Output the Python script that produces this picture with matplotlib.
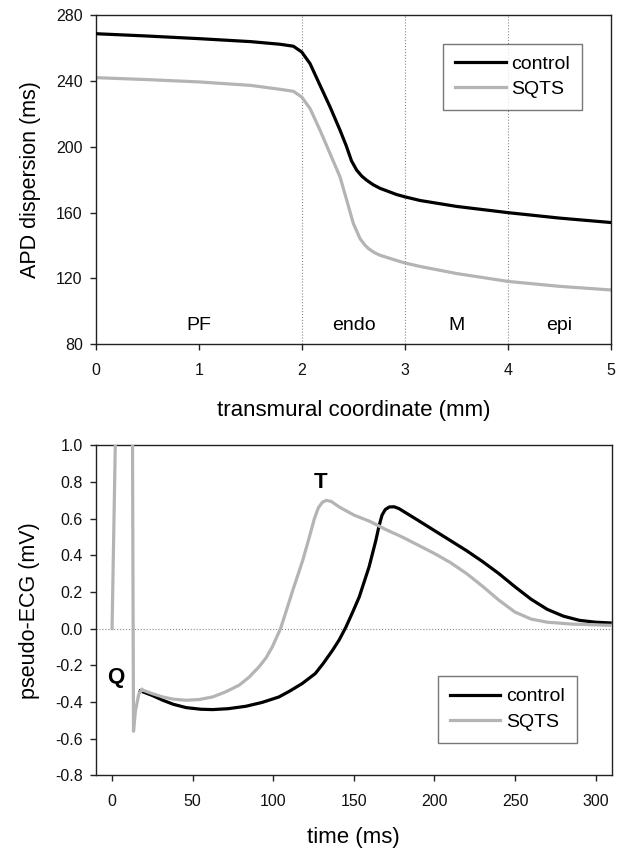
import matplotlib.pyplot as plt

plt.rcParams['font.family'] = ['Liberation Sans', 'DejaVu Sans']

# top panel: APD dispersion along the transmural coordinate
x_mm = [0.0, 0.5, 1.0, 1.5, 1.786, 1.916, 1.997, 2.078, 2.175, 2.272, 2.369, 2.43, 2.48, 2.531, 2.58,
        2.628, 2.69, 2.757, 2.919, 3.0, 3.146, 3.5, 4.0, 4.5, 5.0]
apd_control = [268.8, 267.4, 265.8, 264.0, 262.4, 261.2, 257.7, 250.6, 237.4, 224.3, 210.1, 200.5, 191.5,
               185.8, 182.2, 179.7, 177.0, 174.8, 171.0, 169.6, 167.4, 163.8, 160.0, 156.7, 154.0]
x_mm_sqts = [0.0, 0.5, 1.0, 1.5, 1.786, 1.916, 1.997, 2.078, 2.175, 2.272, 2.369, 2.434, 2.498, 2.563,
             2.61, 2.644, 2.7, 2.757, 2.919, 3.0, 3.146, 3.5, 4.0, 4.5, 5.0]
apd_sqts = [242.1, 240.9, 239.5, 237.4, 235.0, 233.8, 230.3, 223.3, 210.1, 195.9, 181.7, 167.5, 153.4,
            144.2, 140.3, 138.2, 135.8, 134.1, 130.9, 129.4, 127.3, 123.0, 118.2, 115.2, 113.0]
zones = ['PF', 'endo', 'M', 'epi']
zone_x = [1.0, 2.5, 3.5, 4.5]
zone_edges = [2, 3, 4]

# bottom panel: pseudo-ECG
t_control = [17.5, 19.1, 25, 31.5, 38, 45.9, 55, 62.3, 72, 82.9, 93, 103.5, 110, 117.9, 126.1, 131,
             136.8, 141, 145.1, 149, 153.3, 159.4, 163.6, 165.6, 167.5, 169.5, 172, 175, 178, 190, 200,
             210, 220, 230, 240, 250, 260, 270, 280, 290, 300, 309]
ecg_control = [-0.34, -0.345, -0.365, -0.391, -0.413, -0.431, -0.44, -0.442, -0.437, -0.424, -0.403,
               -0.373, -0.342, -0.30, -0.245, -0.19, -0.118, -0.06, 0.009, 0.085, 0.172, 0.336, 0.48,
               0.56, 0.62, 0.65, 0.664, 0.665, 0.655, 0.59, 0.535, 0.48, 0.425, 0.365, 0.30, 0.228,
               0.16, 0.105, 0.068, 0.045, 0.035, 0.031]
t_sqts = [0.0, 2.0, 3.0, 12.5, 13.0, 13.3, 14.5, 16.5, 18.5, 19.1, 25, 31.5, 38, 45.9, 54, 62.3, 70,
          78.8, 85, 91.1, 95.5, 99.4, 104.5, 108, 112.1, 118.3, 122.4, 125.5, 128, 130.5, 133, 136,
          140.9, 150, 160, 170, 180, 190, 200, 210, 220, 230, 240, 250, 260, 270, 285, 309]
ecg_sqts = [0.0, 1.0, 1.5, 1.5, 0.2, -0.56, -0.45, -0.36, -0.33, -0.336, -0.355, -0.373, -0.385,
            -0.391, -0.387, -0.373, -0.347, -0.309, -0.265, -0.209, -0.16, -0.10, 0.0, 0.095, 0.209,
            0.373, 0.50, 0.60, 0.66, 0.69, 0.70, 0.694, 0.664, 0.62, 0.585, 0.54, 0.50, 0.455, 0.41,
            0.36, 0.30, 0.23, 0.155, 0.09, 0.052, 0.035, 0.025, 0.018]
ecg_yticks = [-0.8, -0.6, -0.4, -0.2, 0.0, 0.2, 0.4, 0.6, 0.8, 1.0]
ecg_ylabels = ['-0.8', '-0.6', '-0.4', '-0.2', '0.0', '0.2', '0.4', '0.6', '0.8', '1.0']

black = '#000000'
gray = '#b4b4b4'
spine = '#222222'

fig = plt.figure(figsize=(6.23, 8.5), dpi=100)
ax1 = fig.add_axes([0.154, 0.595, 0.827, 0.387])
ax2 = fig.add_axes([0.154, 0.088, 0.828, 0.388])

leg_kw = dict(fontsize=14, frameon=True, fancybox=False, edgecolor='#555555', handlelength=2.6,
              borderpad=0.6, labelspacing=0.4, handletextpad=0.3, borderaxespad=0)

# top
for xe in zone_edges:
    ax1.axvline(xe, color='#888888', lw=0.8, ls=':', zorder=1)
ax1.plot(x_mm, apd_control, color=black, lw=2.3, label='control', zorder=3)
ax1.plot(x_mm_sqts, apd_sqts, color=gray, lw=2.3, label='SQTS', zorder=2)
for name, zx in zip(zones, zone_x):
    ax1.text(zx, 91.5, name, ha='center', va='center', fontsize=14)
ax1.set_xlim(0, 5)
ax1.set_ylim(80, 280)
ax1.set_xticks(range(0, 6))
ax1.set_yticks(range(80, 281, 40))
ax1.set_xlabel('transmural coordinate (mm)', fontsize=16, labelpad=16)
ax1.set_ylabel('APD dispersion (ms)', fontsize=15.5, labelpad=11)
ax1.legend(loc='upper right', bbox_to_anchor=(0.943, 0.914), **leg_kw)

# bottom
ax2.axhline(0, color='#888888', lw=0.8, ls=':', zorder=1)
ax2.plot(t_control, ecg_control, color=black, lw=2.3, label='control', zorder=2)
ax2.plot(t_sqts, ecg_sqts, color=gray, lw=2.3, label='SQTS', zorder=3)
ax2.text(2, -0.265, 'Q', ha='center', va='center', fontsize=16, fontweight='bold')
ax2.text(129.6, 0.80, 'T', ha='center', va='center', fontsize=16, fontweight='bold')
ax2.set_xlim(-10, 310)
ax2.set_ylim(-0.8, 1.0)
ax2.set_xticks(range(0, 301, 50))
ax2.set_yticks(ecg_yticks)
ax2.set_yticklabels(ecg_ylabels)
ax2.set_xlabel('time (ms)', fontsize=16, labelpad=13)
ax2.set_ylabel('pseudo-ECG (mV)', fontsize=15.5, labelpad=11)
ax2.legend(loc='lower right', bbox_to_anchor=(0.932, 0.099), **leg_kw)

for ax in (ax1, ax2):
    for s in ax.spines.values():
        s.set_color(spine)
        s.set_linewidth(1.0)
    ax.tick_params(direction='out', length=4.5, width=1, labelsize=11.5, color=spine, labelcolor='#111111')
    ax.tick_params(axis='x', pad=9)
    ax.tick_params(axis='y', pad=5)

fig.savefig('out.png', dpi=100)
